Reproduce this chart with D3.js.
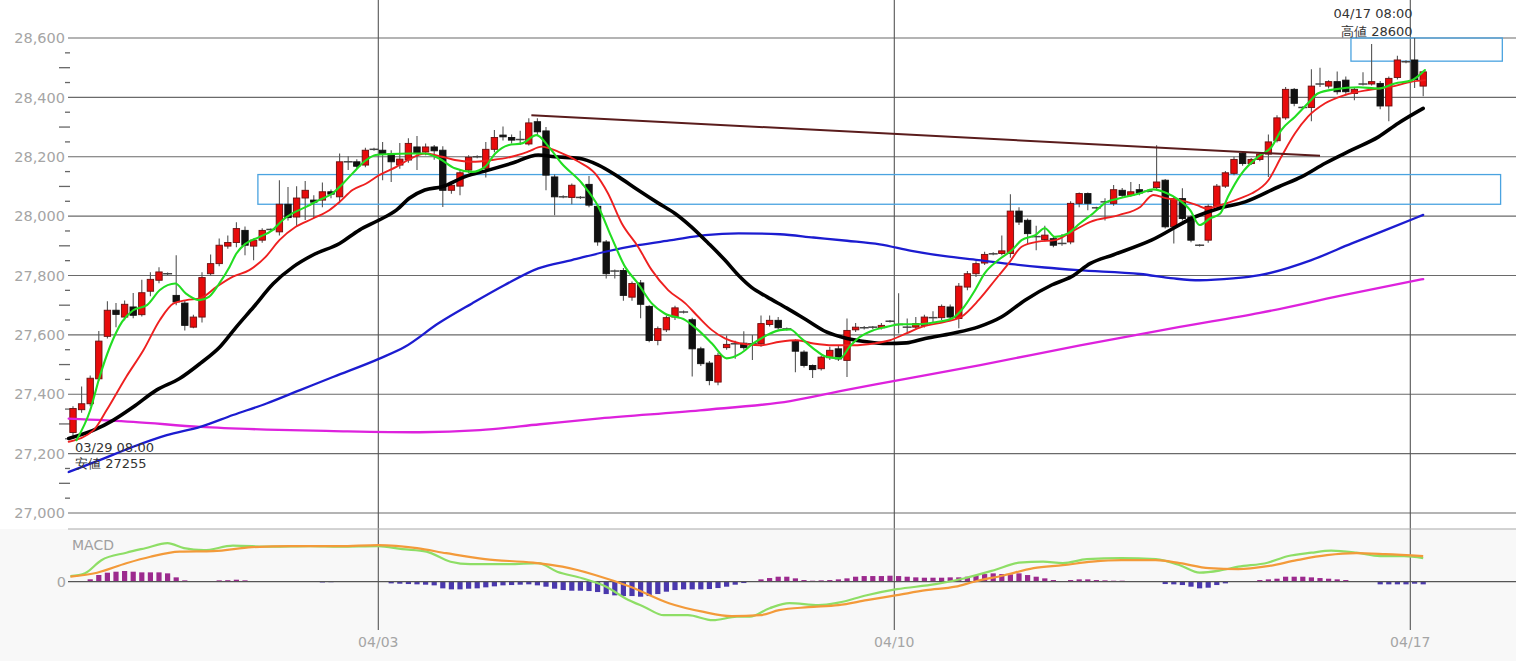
<!DOCTYPE html>
<html><head><meta charset="utf-8">
<script src="https://cdn.jsdelivr.net/npm/d3@7"></script>
<style>html,body{margin:0;padding:0;background:#fff;overflow:hidden}svg{display:block}</style>
</head><body><svg id="c" width="1516" height="661"></svg>
<script>
// ---------- DATA ----------
const yTicks = [27000, 27200, 27400, 27600, 27800, 28000, 28200, 28400, 28600];
const xTickIdx = [35.5, 95.5, 155.5];
const xTickLabels = ["04/03", "04/10", "04/17"];
// candles: [open, high, low, close]
const ohlc = [
[27271,27360,27255,27352],[27348,27426,27338,27368],[27368,27463,27360,27454],[27452,27613,27445,27579],[27595,27713,27588,27683],
[27683,27707,27626,27669],[27660,27716,27649,27703],[27694,27741,27656,27666],[27668,27786,27662,27742],[27747,27811,27730,27787],
[27784,27828,27774,27812],[27806,27810,27802,27806],[27733,27868,27700,27711],[27707,27716,27615,27632],[27626,27668,27622,27660],
[27660,27811,27642,27793],[27806,27871,27800,27840],[27840,27925,27831,27902],[27899,27935,27890,27911],[27911,27979,27895,27958],
[27952,27965,27868,27902],[27899,27925,27851,27919],[27919,27959,27910,27952],[27955,27958,27950,27955],[27947,28121,27935,28040],
[28040,28098,27985,27995],[27997,28101,27966,28061],[28061,28118,27987,28087],[28054,28070,27993,28047],[28054,28113,28030,28082],
[28082,28090,28060,28074],[28065,28211,28043,28183],[28183,28202,28155,28183],[28183,28192,28160,28168],[28172,28230,28165,28222],
[28225,28230,28220,28225],[28222,28250,28121,28211],[28211,28222,28115,28183],[28172,28246,28160,28192],[28189,28262,28180,28245],
[28233,28270,28155,28211],[28216,28245,28205,28233],[28233,28240,28190,28220],[28222,28235,28031,28087],[28087,28115,28075,28104],
[28101,28155,28070,28146],[28155,28205,28145,28198],[28200,28205,28195,28200],[28161,28250,28130,28225],[28225,28290,28215,28265],
[28273,28302,28255,28267],[28265,28275,28245,28256],[28258,28288,28240,28258],[28243,28330,28238,28314],[28318,28330,28270,28284],
[28287,28300,28087,28138],[28132,28140,28003,28065],[28065,28070,28060,28065],[28063,28110,28040,28104],[28063,28068,28058,28063],
[28107,28135,28030,28037],[28033,28040,27900,27913],[27913,27920,27790,27806],[27815,27820,27790,27815],[27817,27825,27715,27733],
[27727,27780,27715,27773],[27775,27785,27656,27703],[27696,27700,27575,27581],[27581,27628,27565,27621],[27617,27665,27610,27658],
[27660,27698,27650,27691],[27677,27682,27672,27677],[27651,27658,27460,27553],[27553,27560,27495,27503],[27505,27512,27430,27446],
[27441,27540,27430,27531],[27557,27598,27550,27568],[27570,27580,27520,27570],[27572,27612,27550,27557],[27570,27600,27515,27570],
[27570,27665,27560,27638],[27635,27665,27628,27649],[27649,27660,27618,27624],[27620,27625,27615,27620],[27579,27585,27474,27545],
[27542,27548,27490,27497],[27497,27500,27455,27483],[27486,27530,27480,27525],[27523,27560,27515,27548],[27553,27565,27512,27519],
[27514,27655,27458,27615],[27617,27640,27610,27626],[27624,27630,27618,27624],[27626,27630,27620,27626],[27624,27640,27618,27632],
[27646,27650,27642,27646],[27635,27740,27605,27635],[27626,27655,27605,27626],[27626,27660,27620,27638],[27632,27668,27625,27660],
[27658,27680,27640,27658],[27658,27702,27650,27696],[27694,27702,27655,27660],[27655,27775,27622,27764],[27761,27815,27750,27806],
[27806,27848,27795,27840],[27842,27880,27835,27871],[27873,27878,27868,27873],[27874,27935,27868,27883],[27874,28074,27860,28017],
[28017,28030,27970,27980],[27986,27992,27908,27941],[27931,27968,27885,27931],[27921,27968,27915,27936],[27924,27930,27895,27902],
[27908,27940,27900,27908],[27913,28050,27905,28043],[28043,28080,28030,28076],[28076,28080,28020,28043],[28028,28032,28022,28028],
[28048,28060,27985,28048],[28043,28105,28035,28089],[28087,28095,28062,28070],[28070,28115,28065,28082],[28089,28108,28070,28078],
[28084,28090,28080,28084],[28096,28239,28090,28115],[28121,28125,27958,27964],[27964,28065,27908,28059],[28059,28094,27985,27992],
[27997,28003,27912,27919],[27902,27905,27898,27902],[27919,28040,27910,28033],[28033,28108,28025,28101],[28101,28152,28095,28146],
[28144,28200,28138,28191],[28211,28216,28170,28177],[28177,28196,28172,28191],[28191,28215,28185,28209],[28209,28275,28132,28250],
[28254,28340,28248,28331],[28331,28435,28325,28427],[28427,28432,28370,28380],[28366,28370,28362,28366],[28366,28495,28320,28438],
[28445,28500,28435,28445],[28438,28458,28430,28453],[28453,28487,28410,28419],[28458,28470,28412,28419],[28413,28432,28390,28427],
[28445,28485,28440,28445],[28445,28580,28440,28453],[28447,28455,28360,28371],[28371,28470,28320,28464],[28467,28540,28460,28526],
[28520,28525,28515,28520],[28526,28600,28432,28460],[28438,28490,28404,28486]
];
// moving averages sampled: [candle index, price]
const maGreen = [[0.4,27245],[2.0,27346],[3.1,27459],[4.3,27560],[5.7,27644],[7.0,27683],[8.6,27700],[10.1,27751],[11.9,27773],[13.1,27740],[14.7,27717],[15.8,27728],[17.0,27773],[18.2,27829],[19.0,27874],[20.1,27908],[21.7,27930],[23.2,27953],[24.4,27987],[25.5,28009],[27.1,28031],[28.6,28054],[30.2,28077],[31.4,28110],[32.5,28144],[34.1,28189],[35.2,28206],[36.8,28209],[39.1,28211],[40.9,28211],[42.5,28195],[44.4,28161],[46.4,28149],[47.9,28166],[49.1,28211],[50.6,28239],[52.2,28245],[53.9,28273],[55.3,28234],[56.8,28178],[59.2,28110],[61.1,28031],[62.6,27930],[64.2,27829],[65.7,27773],[67.3,27706],[68.8,27672],[71.2,27650],[72.7,27616],[74.3,27571],[76.0,27521],[77.6,27537],[79.1,27571],[80.7,27599],[82.2,27616],[83.4,27618],[84.5,27593],[86.1,27554],[87.6,27526],[89.2,27521],[90.3,27560],[91.5,27593],[93.1,27616],[94.6,27627],[96.2,27636],[98.3,27636],[100.6,27644],[102.2,27655],[103.3,27683],[104.9,27751],[106.0,27807],[107.6,27852],[109.2,27886],[110.3,27919],[111.9,27936],[113.0,27959],[114.2,27930],[115.7,27942],[117.1,27976],[118.6,28009],[120.2,28048],[121.7,28060],[124.1,28077],[125.6,28090],[127.2,28077],[128.3,28060],[129.9,28020],[131.0,27970],[132.2,27992],[133.4,28009],[134.3,28065],[135.9,28144],[137.8,28200],[139.4,28234],[140.5,28290],[142.1,28335],[143.6,28380],[144.8,28414],[146.7,28427],[149.5,28434],[151.8,28430],[153.7,28447],[155.7,28458],[157.2,28492]];
const maRed = [[-0.5,27240],[2.4,27279],[3.9,27346],[6.2,27459],[8.2,27549],[10.1,27650],[11.7,27706],[13.2,27717],[14.8,27723],[16.7,27762],[18.6,27796],[20.5,27818],[22.4,27863],[24.0,27919],[25.9,27964],[27.9,27992],[29.8,28020],[31.0,28048],[32.5,28088],[34.1,28110],[35.6,28138],[37.6,28166],[39.1,28191],[40.9,28211],[42.9,28200],[44.4,28189],[46.4,28183],[48.7,28189],[51.0,28200],[52.9,28217],[54.5,28234],[56.4,28217],[58.8,28183],[60.7,28144],[62.2,28077],[63.8,27976],[65.7,27897],[67.3,27818],[69.2,27751],[71.2,27706],[72.7,27661],[74.3,27616],[75.8,27588],[77.6,27571],[79.9,27565],[82.2,27577],[84.2,27582],[86.1,27571],[88.4,27565],[90.7,27565],[93.1,27571],[95.0,27582],[96.9,27605],[98.7,27627],[101.4,27644],[103.3,27661],[105.3,27717],[107.2,27784],[108.8,27841],[110.3,27897],[112.2,27914],[114.2,27919],[116.1,27947],[118.3,27981],[121.7,28004],[124.1,28031],[125.6,28071],[127.2,28060],[128.7,28054],[130.7,28037],[131.8,28026],[133.4,28037],[135.7,28060],[137.1,28077],[139.0,28121],[140.5,28200],[142.1,28279],[143.6,28335],[145.6,28380],[147.9,28408],[150.6,28425],[153.3,28436],[155.7,28453],[157.2,28458]];
const maBlack = [[-0.5,27251],[2.4,27279],[4.7,27313],[7.0,27357],[9.7,27414],[12.4,27453],[14.8,27504],[17.1,27560],[19.0,27627],[21.0,27694],[23.3,27773],[25.6,27829],[27.9,27869],[31.0,27908],[33.3,27953],[35.6,27987],[37.6,28020],[39.1,28060],[40.9,28088],[42.9,28099],[45.6,28133],[48.3,28155],[51.0,28178],[54.1,28206],[56.0,28200],[58.8,28195],[61.1,28172],[63.4,28133],[65.7,28088],[68.1,28043],[70.0,28009],[71.9,27964],[73.9,27908],[75.8,27852],[77.4,27800],[78.9,27760],[80.7,27728],[83.0,27690],[85.3,27650],[87.6,27610],[90.0,27588],[92.3,27577],[94.6,27571],[96.9,27573],[99.1,27588],[102.2,27605],[105.3,27627],[108.0,27661],[110.7,27717],[113.8,27768],[116.1,27796],[118.3,27841],[121.0,27870],[125.4,27919],[130.5,27998],[133.2,28026],[136.3,28048],[140.2,28099],[142.9,28133],[145.6,28178],[148.7,28223],[151.8,28267],[154.1,28313],[157.0,28363]];
const maBlue = [[-0.5,27138],[3.1,27178],[7.0,27223],[10.9,27262],[14.8,27290],[18.6,27330],[22.5,27369],[26.4,27414],[30.3,27459],[35.7,27521],[38.6,27560],[42.5,27639],[46.4,27706],[50.2,27768],[54.1,27824],[58.0,27852],[61.9,27880],[65.7,27902],[69.6,27919],[73.5,27936],[77.4,27942],[82.2,27939],[86.1,27928],[90.0,27917],[93.8,27905],[97.5,27883],[101.4,27865],[105.3,27852],[109.2,27838],[113.0,27827],[116.9,27818],[124.1,27805],[128.0,27790],[131.0,27784],[134.9,27790],[138.0,27801],[144.0,27852],[148.7,27908],[152.6,27953],[157.0,28004]];
const maMagenta = [[-0.5,27318],[7.0,27307],[14.8,27290],[22.5,27281],[30.3,27276],[40.3,27272],[47.3,27279],[54.3,27299],[61.3,27319],[72.9,27346],[83.4,27377],[89.8,27414],[93.8,27436],[105.5,27498],[117.1,27565],[128.7,27627],[138.0,27674],[147.3,27731],[157.0,27788]];
// support/resistance zones [idxStart, idxEnd, priceLow, priceHigh]
const zones = [[21.5, 166.0, 28040, 28140], [148.6, 166.2, 28522, 28600]];
const trendLine = [[53.3, 28340], [145.0, 28203]];
// MACD
const macdLine = [[-0.3,11],[1.4,17],[3.3,43],[6.2,58],[8.4,67],[11.0,77],[12.9,67],[15.2,63],[18.6,72],[23.1,70],[27.6,71],[31.0,70],[35.5,71],[38.3,65],[41.1,60],[43.9,40],[46.2,35],[50.7,35],[54.1,37],[56.3,20],[59.2,7],[62.0,-10],[64.2,-33],[66.5,-51],[68.7,-67],[71.5,-67],[74.4,-77],[77.2,-70],[78.7,-70],[81.0,-53],[83.3,-43],[86.7,-47],[89.0,-42],[92.3,-27],[95.8,-15],[100.3,-5],[103.7,7],[107.1,23],[110.0,38],[112.8,40],[115.1,37],[117.9,45],[121.9,47],[125.9,45],[128.7,33],[131.0,18],[133.3,22],[135.5,30],[138.9,38],[141.2,51],[144.0,58],[146.3,62],[149.2,58],[152.0,51],[154.8,51],[157.0,47]];
const signalLine = [[-0.3,10],[2.8,18],[6.2,37],[9.0,50],[12.4,60],[16.3,61],[20.8,69],[25.3,71],[31.0,71],[35.5,73],[40.0,67],[43.4,57],[47.9,45],[53.5,38],[56.9,30],[60.8,13],[64.8,-10],[69.3,-43],[73.2,-60],[76.6,-69],[79.9,-67],[82.1,-57],[85.5,-51],[89.0,-47],[92.3,-37],[95.8,-27],[99.2,-17],[102.6,-10],[104.8,0],[108.3,13],[111.7,27],[115.1,33],[118.5,40],[121.9,43],[125.9,43],[128.7,37],[132.1,27],[135.5,25],[138.9,31],[142.3,43],[145.8,53],[149.2,57],[152.6,55],[157.0,51]];
const macdHist = [
0,1,4.8,13.4,18,20,21.4,20,18.7,18.7,
18.7,16.7,8.7,2.7,-0.6,0,0,2.7,3,4,
2.7,0.5,0.5,0.5,0.5,0.5,0.5,0.5,0.5,-1.5,
-1,0,0,0,0,0,0,-3.3,-4,-4.7,
-5.3,-6,-7.3,-13.3,-15.3,-15.3,-14,-13.3,-11.3,-9.3,
-7.3,-6.7,-6,-5.3,-7.3,-10,-14,-16.7,-18,-18,
-18.7,-20.7,-24.7,-27.3,-28.7,-28.7,-30,-28.7,-24.7,-20,
-16.7,-15.3,-15.3,-15.3,-14.7,-12.7,-10,-6,-2.7,1,
4.7,7.3,10,10,6.7,3.3,2,2.7,3.3,4.7,
6.7,10,11.3,11.3,11.3,12,11.3,10,8.7,8,
8,8,8.7,8.7,10,12.7,15.3,16.7,15.3,14.7,
16.7,13.3,10,6.7,3.3,0.5,3.3,4.7,4.7,3.3,
2.7,2,2,1,1,0.5,-0.5,-4.7,-5.3,-6.7,
-10,-13.3,-12,-6.7,-3.3,-0.5,0,0.7,3.3,4.7,
6,10,10,10,8.7,7.3,6,4.7,3.3,0.5,
0.5,0.5,-5.3,-5.3,-5.3,-5.3,-4,-5.3
];
const annoHigh = {idx: 156, label1: "04/17 08:00", label2: "高値 28600"};
const annoLow = {idx: 0, label1: "03/29 08:00", label2: "安値 27255"};

// ---------- CHART ----------
const W = 1516, H = 661;
const svg = d3.select("#c");
const plotL = 68, plotR = 1516;
const x = d3.scaleLinear().domain([0, 157]).range([73, 73 + 8.6 * 157]);
const y = d3.scaleLinear().domain([27000, 28600]).range([513, 38]);
const ym = d3.scaleLinear().domain([-100, 100]).range([631.7, 531.7]);
const font = "'DejaVu Sans', Verdana, sans-serif";

svg.append("rect").attr("x",0).attr("y",0).attr("width",W).attr("height",H).attr("fill","#ffffff");
svg.append("rect").attr("x",0).attr("y",529).attr("width",W).attr("height",H-529).attr("fill","#f8f8f8");

// horizontal grid
svg.append("g").selectAll("line").data(yTicks).join("line")
  .attr("x1", plotL).attr("x2", plotR).attr("y1", d=>y(d)).attr("y2", d=>y(d))
  .attr("stroke", "#6a6a6a").attr("stroke-width", 1.2);
// minor ticks
const minor = d3.range(27050, 28600, 50).filter(v => v % 200 !== 0);
svg.append("g").selectAll("line").data(minor).join("line")
  .attr("x1", d => (d % 100 === 0) ? 59 : 65).attr("x2", 70)
  .attr("y1", d=>y(d)).attr("y2", d=>y(d))
  .attr("stroke", "#666").attr("stroke-width", 1.3);
// y labels
svg.append("g").selectAll("text").data(yTicks).join("text")
  .attr("x", 65).attr("y", d=>y(d)).attr("dy","0.36em").attr("text-anchor","end")
  .attr("font-family", font).attr("font-size", 14.5).attr("fill", "#a5a5a5")
  .text(d => d3.format(",")(d));

// vertical day lines
svg.append("g").selectAll("line").data(xTickIdx).join("line")
  .attr("x1", d=>x(d)).attr("x2", d=>x(d)).attr("y1", 0).attr("y2", 630)
  .attr("stroke", "#555").attr("stroke-width", 1.1);
svg.append("g").selectAll("text").data(xTickIdx).join("text")
  .attr("x", d=>x(d)).attr("y", 647).attr("text-anchor","middle")
  .attr("font-family", font).attr("font-size", 14).attr("fill", "#a5a5a5")
  .text((d,i)=>xTickLabels[i]);

// zones
svg.append("g").selectAll("rect").data(zones).join("rect")
  .attr("x", d=>x(d[0])).attr("width", d=>x(d[1])-x(d[0]))
  .attr("y", d=>y(d[3])).attr("height", d=>y(d[2])-y(d[3]))
  .attr("fill","none").attr("stroke","#4aa3e0").attr("stroke-width",1.3);

// moving averages
const line = d3.line().x(d=>x(d[0])).y(d=>y(d[1])).curve(d3.curveMonotoneX);
const mas = [
  [maMagenta, "#dd22dd", 2.3],
  [maBlue, "#1c1cd0", 2.3],
  [maBlack, "#000000", 3.6],
  [maRed, "#ee2020", 1.9],
  [maGreen, "#22dd22", 2.1]
];
// candles
const cg = svg.append("g");
const bw = 6.4;
cg.selectAll("line.wick").data(ohlc).join("line").attr("class","wick")
  .attr("x1",(d,i)=>x(i)).attr("x2",(d,i)=>x(i)).attr("y1",d=>y(d[1])).attr("y2",d=>y(d[2]))
  .attr("stroke","#555").attr("stroke-width",1.1);
cg.selectAll("rect.body").data(ohlc.map((d,i)=>({d,i})).filter(o=>Math.abs(o.d[0]-o.d[3])>=1)).join("rect").attr("class","body")
  .attr("x",o=>x(o.i)-bw/2).attr("width",bw)
  .attr("y",o=>y(Math.max(o.d[0],o.d[3]))).attr("height",o=>Math.max(1,y(Math.min(o.d[0],o.d[3]))-y(Math.max(o.d[0],o.d[3]))))
  .attr("fill",o=>o.d[3]>o.d[0]?"#e80b0b":"#111111")
  .attr("stroke",o=>o.d[3]>o.d[0]?"#6a1010":"#111").attr("stroke-width",0.9);
cg.selectAll("line.doji").data(ohlc.map((d,i)=>({d,i})).filter(o=>Math.abs(o.d[0]-o.d[3])<1)).join("line").attr("class","doji")
  .attr("x1",o=>x(o.i)-4.5).attr("x2",o=>x(o.i)+4.5).attr("y1",o=>y(o.d[0])).attr("y2",o=>y(o.d[0]))
  .attr("stroke","#444").attr("stroke-width",1.5);

svg.append("g").selectAll("path").data(mas).join("path")
  .attr("d", d=>line(d[0])).attr("fill","none").attr("stroke", d=>d[1]).attr("stroke-width", d=>d[2])
  .attr("stroke-linejoin","round").attr("stroke-linecap","round");

// trend line
svg.append("line").attr("x1",x(trendLine[0][0])).attr("y1",y(trendLine[0][1]))
  .attr("x2",x(trendLine[1][0])).attr("y2",y(trendLine[1][1]))
  .attr("stroke","#5a1c1c").attr("stroke-width",2);

// annotations
const ag = svg.append("g").attr("font-family",font).attr("font-size",13).attr("fill","#333");
ag.append("text").attr("x", x(annoHigh.idx)-2).attr("y", 18).attr("text-anchor","end").text(annoHigh.label1);
ag.append("text").attr("x", x(annoHigh.idx)-2).attr("y", 36).attr("text-anchor","end").text(annoHigh.label2);
ag.append("text").attr("x", x(annoLow.idx)+2).attr("y", 452).text(annoLow.label1);
ag.append("text").attr("x", x(annoLow.idx)+2).attr("y", 468).text(annoLow.label2);

// MACD panel
svg.append("line").attr("x1",plotL).attr("x2",plotR).attr("y1",529).attr("y2",529).attr("stroke","#aaa").attr("stroke-width",1.2);
svg.append("text").attr("x",72).attr("y",550).attr("font-family",font).attr("font-size",14).attr("fill","#a0a0a0").text("MACD");
svg.append("text").attr("x",66).attr("y",ym(0)).attr("dy","0.36em").attr("text-anchor","end")
  .attr("font-family",font).attr("font-size",14.5).attr("fill","#a5a5a5").text("0");
svg.append("g").selectAll("rect").data(macdHist).join("rect")
  .attr("x",(d,i)=>x(i)-2.6).attr("width",5.2)
  .attr("y",d=>d>=0?ym(d):ym(0)).attr("height",d=>Math.abs(ym(d)-ym(0)))
  .attr("fill",d=>d>=0?"#9c2a8e":"#4a38ad");
svg.append("line").attr("x1",plotL).attr("x2",plotR).attr("y1",ym(0)).attr("y2",ym(0)).attr("stroke","#555").attr("stroke-width",1.2);
const mline = d3.line().x(d=>x(d[0])).y(d=>ym(d[1])).curve(d3.curveMonotoneX);
svg.append("path").attr("d",mline(macdLine)).attr("fill","none").attr("stroke","#8ede66").attr("stroke-width",2.2);
svg.append("path").attr("d",mline(signalLine)).attr("fill","none").attr("stroke","#f39a3a").attr("stroke-width",2.2);
</script></body></html>
